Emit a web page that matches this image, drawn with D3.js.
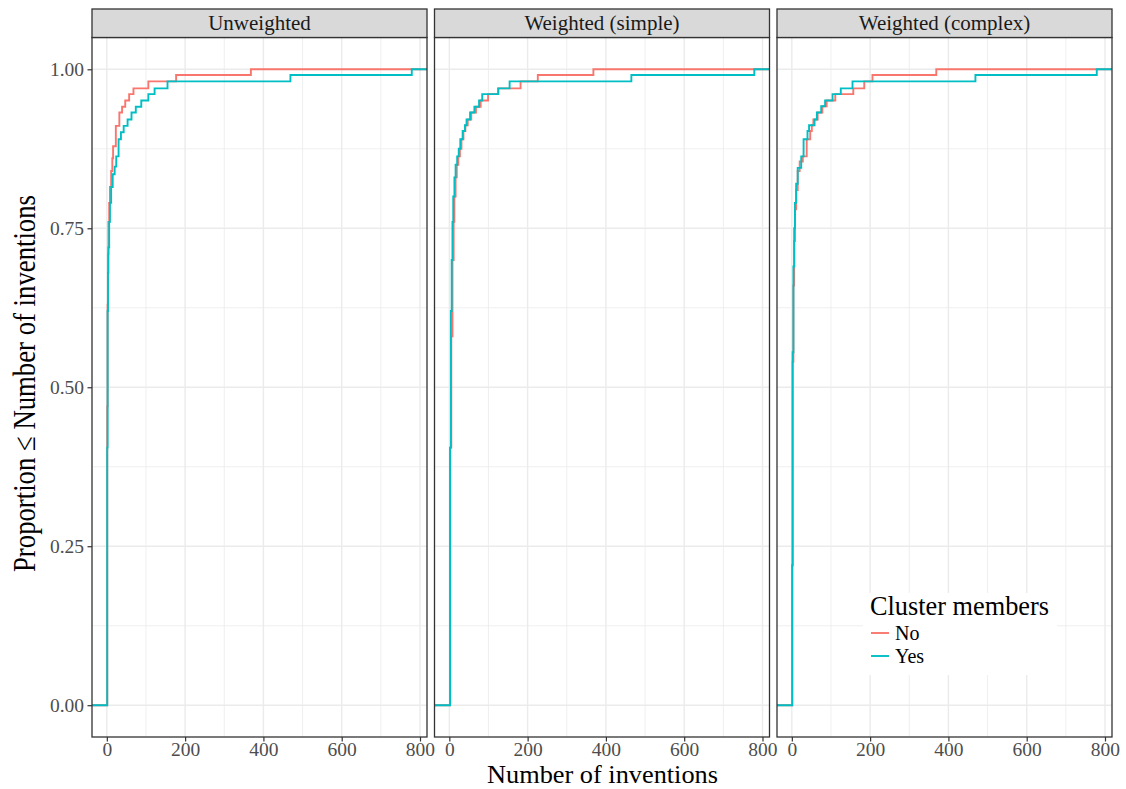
<!DOCTYPE html>
<html><head><meta charset="utf-8">
<script src="https://cdn.jsdelivr.net/npm/d3@7"></script>
<style>
html,body{margin:0;padding:0;background:#fff;}
svg{display:block;font-family:"Liberation Serif","Times New Roman",serif;}
</style></head>
<body><svg id="chart" width="1126" height="789"></svg>
<script>
// ---- data ----
const panels = ["Unweighted", "Weighted (simple)", "Weighted (complex)"];
const groups = ["No", "Yes"];
const groupColors = ["#F8766D", "#00BFC4"];
const xTicks = [0, 200, 400, 600, 800];
const xMinor = [100, 300, 500, 700];
const yTicks = [0, 0.25, 0.5, 0.75, 1];
const yTickLabels = ["0.00", "0.25", "0.50", "0.75", "1.00"];
const yMinor = [0.125, 0.375, 0.625, 0.875];

// ECDF steps: [number of inventions, cumulative proportion]
const unweightedNo = [[1,.47],[2,.63],[3,.71],[4,.76],[6,.79],[8,.815],[11,.84],[14,.86],[16,.879],[23,.911],[32,.932],[39,.941],[47,.951],[57,.961],[68,.97],[106,.981],[177,.991],[368,1]];
const unweightedYes = [[1,.405],[2,.62],[3,.68],[4,.72],[6,.76],[8,.79],[11,.815],[15,.835],[20,.847],[24,.863],[30,.89],[36,.901],[43,.911],[53,.921],[63,.932],[74,.941],[88,.951],[106,.961],[122,.97],[155,.981],[469,.991],[779,1]];
const simpleNo = [[2,.405],[5,.58],[8,.70],[11,.76],[13,.80],[16,.83],[19,.85],[23,.863],[27,.875],[31,.89],[36,.903],[41,.912],[47,.921],[56,.932],[68,.941],[80,.951],[99,.961],[125,.97],[182,.981],[226,.991],[368,1]];
const simpleYes = [[2,.405],[4,.62],[6,.70],[8,.76],[10,.80],[13,.83],[16,.85],[20,.863],[24,.875],[28,.89],[34,.903],[40,.912],[44,.921],[53,.932],[64,.941],[76,.951],[84,.961],[125,.97],[154,.981],[465,.991],[779,1]];
const complexNo = [[1,.22],[2,.54],[4,.66],[6,.73],[8,.78],[11,.81],[15,.84],[20,.855],[28,.863],[38,.89],[47,.903],[51,.912],[55,.921],[66,.932],[78,.942],[89,.951],[111,.961],[157,.97],[185,.981],[206,.991],[369,1]];
const complexYes = [[1,.22],[2,.555],[4,.69],[6,.75],[8,.79],[11,.82],[15,.845],[24,.863],[30,.89],[40,.903],[44,.912],[58,.921],[64,.932],[75,.942],[85,.951],[104,.961],[125,.97],[155,.981],[469,.991],[779,1]];
const seriesByPanel = [[unweightedNo, unweightedYes],[simpleNo, simpleYes],[complexNo, complexYes]];

// ---- layout ----
const svg = d3.select("#chart");
const panelLefts = [92, 434.5, 777];
const panelW = 335;
const stripTop = 9, panelTop = 37.5, panelBottom = 737;

const xs = seriesByPanel.flatMap(p => p.flatMap(s => s.map(d => d[0])));
const xMinD = d3.min(xs), xMaxD = d3.max(xs);
const xPad = (xMaxD - xMinD) * 0.05;
const xDomain = [xMinD - xPad, xMaxD + xPad];
const y = d3.scaleLinear().domain([-0.05, 1.05]).range([panelBottom, panelTop]);

const defs = svg.append("defs");

panels.forEach((name, pi) => {
  const x0 = panelLefts[pi];
  const x = d3.scaleLinear().domain(xDomain).range([x0, x0 + panelW]);
  const g = svg.append("g");
  g.append("rect").attr("x", x0).attr("y", panelTop).attr("width", panelW).attr("height", panelBottom - panelTop).attr("fill", "#fff");
  // minor grid
  g.selectAll(".vmin").data(xMinor).join("line")
    .attr("x1", d => x(d)).attr("x2", d => x(d)).attr("y1", panelTop).attr("y2", panelBottom)
    .attr("stroke", "#EBEBEB").attr("stroke-width", 0.8);
  g.selectAll(".hmin").data(yMinor).join("line")
    .attr("x1", x0).attr("x2", x0 + panelW).attr("y1", d => y(d)).attr("y2", d => y(d))
    .attr("stroke", "#EBEBEB").attr("stroke-width", 0.8);
  // major grid
  g.selectAll(".vmaj").data(xTicks).join("line")
    .attr("x1", d => x(d)).attr("x2", d => x(d)).attr("y1", panelTop).attr("y2", panelBottom)
    .attr("stroke", "#EBEBEB").attr("stroke-width", 1.4);
  g.selectAll(".hmaj").data(yTicks).join("line")
    .attr("x1", x0).attr("x2", x0 + panelW).attr("y1", d => y(d)).attr("y2", d => y(d))
    .attr("stroke", "#EBEBEB").attr("stroke-width", 1.4);

  const cid = "clip" + pi;
  defs.append("clipPath").attr("id", cid).append("rect")
    .attr("x", x0).attr("y", panelTop).attr("width", panelW).attr("height", panelBottom - panelTop);

  const line = d3.line().x(d => x(d[0])).y(d => y(d[1])).curve(d3.curveStepAfter);
  seriesByPanel[pi].forEach((s, si) => {
    const pts = [[xDomain[0] - 100, 0], ...s, [xDomain[1] + 100, 1]];
    g.append("path").attr("d", line(pts)).attr("clip-path", `url(#${cid})`)
      .attr("fill", "none").attr("stroke", groupColors[si]).attr("stroke-width", 1.9);
  });

  g.append("rect").attr("x", x0).attr("y", panelTop).attr("width", panelW).attr("height", panelBottom - panelTop)
    .attr("fill", "none").attr("stroke", "#333333").attr("stroke-width", 1.3);
  g.append("rect").attr("x", x0).attr("y", stripTop).attr("width", panelW).attr("height", panelTop - stripTop)
    .attr("fill", "#D9D9D9").attr("stroke", "#333333").attr("stroke-width", 1.3);
  g.append("text").attr("x", x0 + panelW / 2).attr("y", 30).attr("text-anchor", "middle")
    .attr("font-size", 21).attr("fill", "#1A1A1A").text(name);

  const xa = d3.axisBottom(x).tickValues(xTicks).tickSize(4.5).tickPadding(1).tickFormat(d3.format("d"));
  const ax = svg.append("g").attr("transform", `translate(0,${panelBottom})`).call(xa);
  ax.select(".domain").remove();
  ax.selectAll(".tick line").attr("stroke", "#333333").attr("stroke-width", 1.2);
  ax.selectAll(".tick text").attr("font-size", 19.5).attr("fill", "#4D4D4D")
    .attr("font-family", "Liberation Serif, serif");

  if (pi === 0) {
    const ya = d3.axisLeft(y).tickValues(yTicks).tickSize(4.5).tickPadding(3.5)
      .tickFormat((d, i) => yTickLabels[i]);
    const ay = svg.append("g").attr("transform", `translate(${x0},0)`).call(ya);
    ay.select(".domain").remove();
    ay.selectAll(".tick line").attr("stroke", "#333333").attr("stroke-width", 1.2);
    ay.selectAll(".tick text").attr("font-size", 19.5).attr("fill", "#4D4D4D")
      .attr("font-family", "Liberation Serif, serif");
  }
});

// axis titles
svg.append("text").attr("x", 602.5).attr("y", 783)
  .attr("text-anchor", "middle").attr("font-size", 25.5)
  .attr("textLength", 231).attr("lengthAdjust", "spacingAndGlyphs")
  .attr("fill", "#000").text("Number of inventions");
svg.append("text").attr("transform", `translate(35,383.5) rotate(-90)`)
  .attr("text-anchor", "middle").attr("font-size", 31)
  .attr("textLength", 377).attr("lengthAdjust", "spacingAndGlyphs")
  .attr("fill", "#000").text("Proportion ≤ Number of inventions");

// legend
const lg = svg.append("g");
lg.append("rect").attr("x", 863).attr("y", 593).attr("width", 194).attr("height", 82).attr("fill", "#fff");
lg.append("text").attr("x", 870).attr("y", 615).attr("font-size", 28)
  .attr("textLength", 179).attr("lengthAdjust", "spacingAndGlyphs")
  .attr("fill", "#000").text("Cluster members");
groups.forEach((gname, i) => {
  const yy = 633 + i * 23;
  lg.append("line").attr("x1", 871).attr("x2", 889).attr("y1", yy).attr("y2", yy)
    .attr("stroke", groupColors[i]).attr("stroke-width", 1.9);
  lg.append("text").attr("x", 895).attr("y", yy + 7).attr("font-size", 20).attr("fill", "#000").text(gname);
});
</script>
</body></html>
